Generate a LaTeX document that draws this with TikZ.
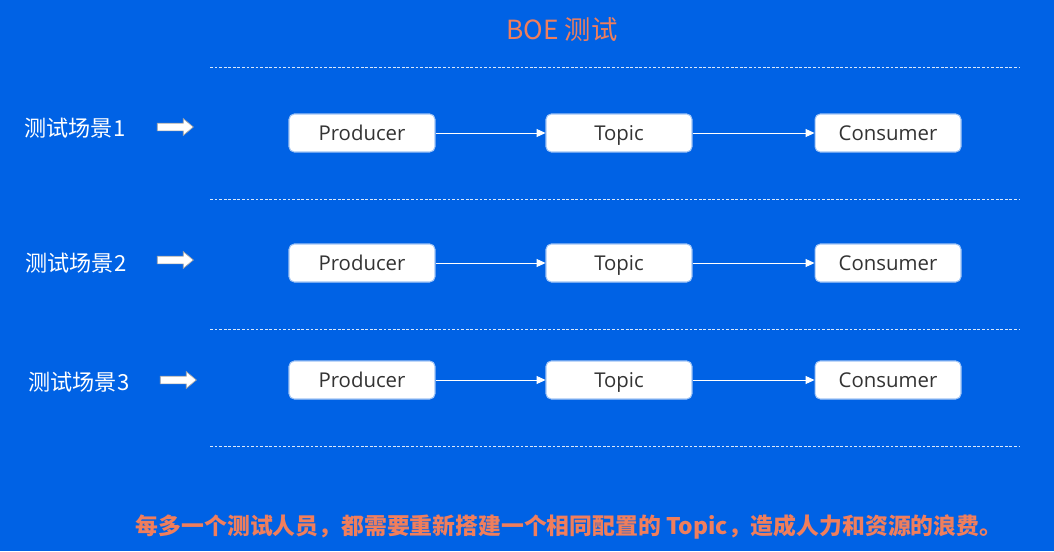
\documentclass[tikz,border=0pt]{standalone}
\usepackage{fontspec}
\setmainfont{Open Sans}
\newfontfamily\cjk{Noto Sans CJK SC}
\usetikzlibrary{arrows.meta,shapes.arrows}

\definecolor{bgblue}{RGB}{0,98,229}
\definecolor{notered}{RGB}{240,126,92}
\definecolor{boxedge}{RGB}{160,196,245}

\tikzset{
  stage/.style={draw=boxedge, line width=0.6pt, fill=white, rounded corners=3pt,
    minimum width=2.92cm, minimum height=0.76cm, inner sep=0pt,
    text height=1.8ex, text depth=0.3ex,
    text=black!80, font=\fontsize{11.6}{12}\selectfont},
  scene/.style={text=white, font=\cjk\fontsize{12.6}{14}\selectfont},
  goarrow/.style={single arrow, draw=gray!70, fill=white, line width=0.4pt,
    inner sep=0.07cm, minimum height=0.72cm, single arrow head extend=0.09cm,
    single arrow tip angle=80},
  flow/.style={white, line width=0.5pt, -{Triangle[length=5pt,width=4.5pt]}},
  sep/.style={white!85!bgblue, line width=0.5pt, dash pattern=on 1.6pt off 1pt},
}

\begin{document}
\begin{tikzpicture}[x=0.02cm, y=-0.02cm]
  \fill[bgblue] (0,0) rectangle (1054,551);

  \node[text=notered, font=\cjk\fontsize{15}{17}\selectfont] (title) at (562,30) {BOE 测试};

  \foreach \ly in {67,199,329,446}
    \draw[sep] (210,\ly) -- (1020,\ly);

  \foreach \i/\ry/\lx/\sy/\ax/\ay in {1/133/75/128/173/127, 2/263/76/263/173/260, 3/380/79/382/176/380}{
    \node[scene] (scene\i) at (\lx,\sy) {测试场景\i};
    \node[goarrow] (go\i) at (\ax,\ay) {};
    \node[stage] (prod\i) at (362,\ry) {Producer};
    \node[stage] (topic\i) at (619,\ry) {Topic};
    \node[stage] (cons\i) at (888,\ry) {Consumer};
    \draw[flow] (prod\i) -- (topic\i);
    \draw[flow] (topic\i) -- (cons\i);
  }

  \node[text=notered, font=\cjk\bfseries\fontsize{13}{16}\selectfont] (waste) at (569,527)
    {每多一个测试人员，都需要重新搭建一个相同配置的 Topic，造成人力和资源的浪费。};
\end{tikzpicture}
\end{document}
